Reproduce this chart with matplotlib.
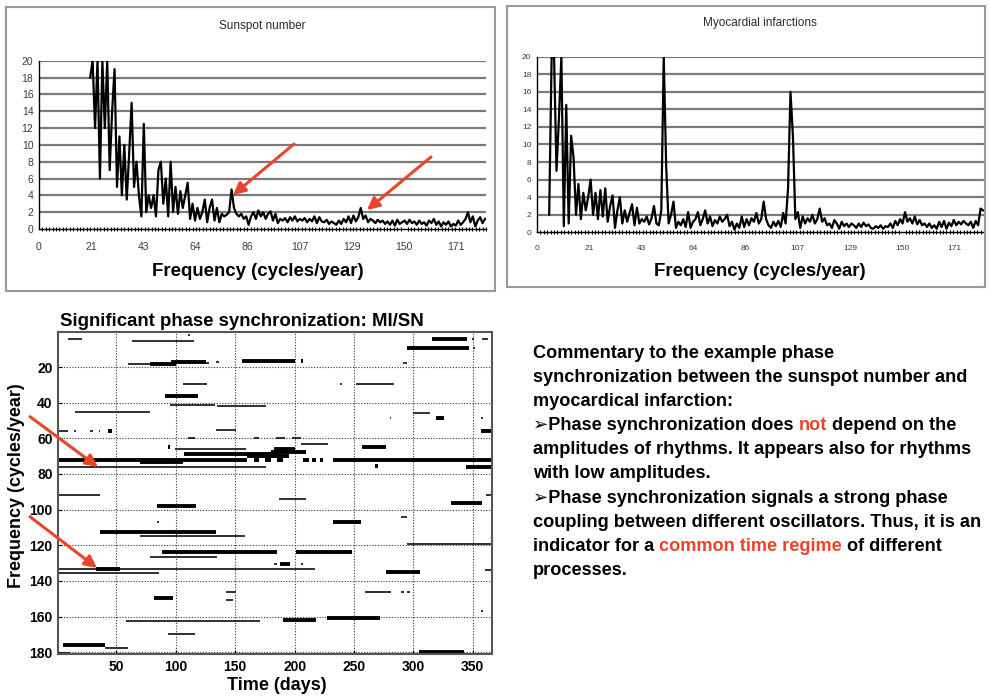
import matplotlib
matplotlib.use("Agg")
import matplotlib.pyplot as plt
from matplotlib.patches import Rectangle
import numpy as np

plt.rcParams['font.family'] = ['Liberation Sans', 'DejaVu Sans']

W, H = 991, 700
RED = '#e8452a'

# ---- spectra (top panels) ----
FREQ_TICKS = [0, 21.4, 42.8, 64.2, 85.6, 107.0, 128.4, 149.8, 171.2]
FREQ_TICK_LABELS = ['0', '21', '43', '64', '86', '107', '129', '150', '171']
POWER_TICKS = list(range(0, 21, 2))

sunspot_start = 21
sunspot_power = [
    18, 20, 12, 20, 6, 20, 12, 20, 7, 14,
    19, 5, 11, 4, 10, 3.5, 9, 15, 5, 8,
    4, 1.5, 12.5, 2, 4, 2.5, 4, 1.5, 7, 8,
    3, 6, 1.5, 8, 2, 5, 1.8, 4.5, 2.5, 4,
    5.5, 1.2, 3, 1, 2.5, 1.2, 2, 3.5, 0.8, 2.5,
    3.5, 1, 2.5, 0.8, 1.8, 1.5, 1.7, 2, 4.7, 2.5,
    1.8, 1.5, 1.8, 1.2, 1.5, 0.5, 1.5, 2, 1.2, 2.2,
    1.5, 2, 1.2, 1.8, 2.1, 1, 1.8, 0.7, 1.2, 1,
    1.3, 0.8, 1.4, 1, 1.5, 0.9, 1.2, 1, 1.3, 0.8,
    1.2, 0.9, 1.5, 0.7, 1.4, 0.9, 0.8, 1.1, 0.6, 0.9,
    0.7, 0.5, 1, 0.6, 1.2, 0.8, 1.5, 0.7, 1.6, 0.9,
    1.4, 2.5, 1.2, 1.6, 0.8, 1.2, 1, 0.7, 1.1, 0.8,
    1, 0.6, 0.9, 0.5, 1, 0.4, 1.1, 0.6, 0.8, 1,
    0.6, 1.1, 0.7, 0.9, 0.5, 1, 0.6, 0.8, 0.4, 1,
    0.7, 1.2, 0.5, 0.9, 0.3, 0.8, 0.5, 0.9, 0.3, 0.6,
    0.4, 1, 0.5, 0.8, 1.2, 2, 0.8, 1.5, 0.3, 1,
    1.4, 0.7, 1.2,
]

mi_start = 5
mi_power = [
    2, 20, 20, 7, 13, 20, 0.7, 14.5, 1, 11,
    8.5, 2, 5.5, 1.5, 4.5, 2.5, 4, 6, 2, 4.5,
    1.5, 4.8, 1.8, 5, 1.2, 3, 4.2, 0.5, 2.5, 4,
    1, 2.5, 1.2, 2.2, 3.2, 0.8, 2.8, 1, 1.5, 1.2,
    1.8, 0.9, 1.6, 3, 1, 0.8, 2.5, 20, 7.5, 1,
    2, 3.5, 0.5, 1.2, 0.8, 1.5, 0.6, 2.3, 0.5, 1.2,
    1.5, 2.3, 0.8, 1.5, 2.5, 1, 1.8, 0.7, 1.4, 1,
    1.8, 1.2, 1.5, 2, 0.7, 1.2, 0.3, 1, 0.5, 1.8,
    0.6, 1.5, 0.8, 1.6, 1.2, 2.2, 1, 1.5, 3.5, 1.5,
    0.8, 0.5, 1.2, 0.7, 1.3, 0.6, 2.2, 1, 5, 16,
    11, 1.5, 2.3, 0.5, 1.8, 1, 1.6, 1.2, 2, 1,
    1.5, 2.7, 1.2, 1.6, 0.8, 1, 0.5, 1.4, 1, 0.4,
    1.2, 0.7, 1, 0.6, 1, 0.8, 0.5, 1, 0.6, 1.1,
    0.7, 0.9, 0.5, 0.4, 0.7, 0.5, 0.8, 0.4, 0.7, 0.6,
    1, 0.5, 1.3, 0.8, 1.5, 1, 2.3, 1.2, 1.6, 1,
    1.8, 0.9, 1.4, 0.8, 1, 0.6, 1, 0.5, 0.8, 0.4,
    1.2, 0.6, 1.3, 0.4, 1.1, 0.7, 1.4, 0.8, 1.2, 0.9,
    1.3, 1, 0.8, 1.2, 0.5, 1.3, 0.8, 2.7, 2.5,
]

# ---- phase synchronization segments (bottom left) ----
# frequency (cycles/year), start day, end day, strong (1) / weak (0)
sync_freq = [
    4.5, 5.4, 1.8, 18.5, 18.2, 17.3, 18, 17, 16.4, 16.4, 17.8, 4.5, 4.5, 4.5, 9.1, 9.1,
    29.4, 29.4, 29.4, 36.3, 41.2, 42.1, 45.3, 46, 48.5, 48.5, 48.5,
    56, 56, 56, 56, 56, 55.2, 56, 60, 60, 60, 60, 63, 65, 65.9, 65,
    69, 70, 66, 67.5,
    72, 72, 72, 72, 72, 72, 72, 72, 73.4, 76.2, 75.6, 76.2,
    91.7, 91.7, 94, 96.2, 98, 104, 106.7, 106.7, 112.7, 114.6, 119.2,
    124, 124, 126.7, 130.5, 130.5, 130.5, 133.3, 133.3, 135.5, 135.2, 134,
    146, 146, 146, 146, 149.8, 150.7, 156.7, 162.7, 162, 160.8, 169.8,
    175.8, 177.7, 179.7, 180.5,
]
sync_start = [
    9, 63, 110, 60, 78, 96, 125, 134, 156, 205, 291, 316, 349, 358, 295, 350,
    106, 238, 252, 91, 95, 135, 15, 300, 319, 357, 280,
    1, 14, 28, 35, 43, 134, 357, 110, 166, 184, 198, 205, 93, 99, 257,
    107, 160, 183, 180,
    1, 166, 175, 185, 207, 215, 221, 232, 70, 1, 268, 344,
    1, 361, 187, 332, 84, 290, 232, 84, 36, 70, 295,
    88, 201, 78, 183, 188, 205, 1, 33, 1, 277, 360,
    142, 259, 290, 295, 82, 142, 357, 58, 190, 227, 93,
    5, 40, 305, 1,
]
sync_end = [
    21, 115, 112, 88, 100, 125, 128, 136, 200, 207, 295, 345, 351, 363, 347, 352,
    126, 240, 284, 119, 133, 176, 78, 314, 326, 359, 281,
    9, 16, 30, 36, 46, 151, 366, 116, 170, 192, 205, 228, 95, 159, 277,
    185, 195, 200, 210,
    160, 170, 180, 190, 212, 218, 224, 366, 106, 176, 270, 366,
    36, 366, 210, 358, 117, 295, 256, 86, 134, 158, 366,
    185, 248, 135, 185, 196, 207, 217, 53, 86, 306, 366,
    151, 281, 292, 297, 98, 148, 359, 171, 218, 272, 116,
    40, 60, 343, 11,
]
sync_strong = [
    0, 0, 0, 0, 1, 1, 0, 0, 1, 1, 0, 1, 0, 0, 1, 0,
    0, 0, 0, 1, 0, 0, 0, 0, 1, 0, 0,
    0, 0, 0, 0, 1, 0, 1, 0, 0, 0, 0, 0, 1, 0, 1,
    1, 1, 1, 1,
    1, 1, 1, 1, 1, 1, 1, 1, 1, 0, 1, 1,
    0, 0, 0, 1, 1, 0, 1, 0, 1, 0, 0,
    1, 1, 0, 0, 1, 0, 0, 1, 0, 1, 0,
    0, 0, 0, 0, 1, 0, 0, 0, 1, 1, 0,
    1, 0, 1, 0,
]

DAY_TICKS = [50, 100, 150, 200, 250, 300, 350]
SYNC_FREQ_TICKS = [20, 40, 60, 80, 100, 120, 140, 160, 180]

# ---- commentary text ----
comment_lines = [
    [("Commentary to the example phase", 'k')],
    [("synchronization between the sunspot number and", 'k')],
    [("myocardical infarction:", 'k')],
    [("\u27a2Phase synchronization does ", 'k'), ("not", RED), (" depend on the", 'k')],
    [("amplitudes of rhythms. It appears also for rhythms", 'k')],
    [("with low amplitudes.", 'k')],
    [("\u27a2Phase synchronization signals a strong phase", 'k')],
    [("coupling between different oscillators. Thus, it is an", 'k')],
    [("indicator for a ", 'k'), ("common time regime", RED), (" of different", 'k')],
    [("processes.", 'k')],
]


def px_axes(fig, left, top, right, bottom):
    return fig.add_axes([left / W, 1 - bottom / H, (right - left) / W, (bottom - top) / H])


def spectrum_panel(fig, rect, start, power, title, title_xy, label_xy, box, tick_size):
    # gray frame around the panel
    bx0, by0, bx1, by1 = box
    fig.add_artist(Rectangle((bx0 / W, 1 - by1 / H), (bx1 - bx0) / W, (by1 - by0) / H,
                             transform=fig.transFigure, fill=False,
                             edgecolor='#9a9a9a', lw=1.5))
    ax = px_axes(fig, *rect)
    freq = np.arange(start, start + len(power))
    for y in POWER_TICKS[1:]:
        ax.axhline(y, color='#7a7a7a', lw=1.6, zorder=1)
    ax.plot(freq, power, color='k', lw=1.6, zorder=3)
    ax.set_xlim(0, 183)
    ax.set_ylim(0, 20)
    ax.set_yticks(POWER_TICKS)
    ax.set_xticks(FREQ_TICKS)
    ax.set_xticklabels(FREQ_TICK_LABELS)
    ax.set_xticks(np.arange(0, 184, 1.4), minor=True)
    ax.tick_params(axis='both', which='major', length=0, labelsize=tick_size,
                   labelcolor='#3a3a3a')
    ax.tick_params(axis='x', which='major', pad=9)
    ax.tick_params(axis='y', pad=4)
    ax.tick_params(axis='x', which='minor', length=2.5, width=0.8, direction='inout')
    for s in ['top', 'right']:
        ax.spines[s].set_visible(False)
    ax.spines['left'].set_linewidth(1.0)
    ax.spines['bottom'].set_linewidth(1.0)
    fig.text(title_xy[0] / W, 1 - title_xy[1] / H, title, ha='center', va='center',
             fontsize=8.5, color='#2a2a2a')
    fig.text(label_xy[0] / W, 1 - label_xy[1] / H, "Frequency (cycles/year)",
             ha='center', va='center', fontsize=13.4, fontweight='bold')
    return ax


def red_arrow(fig, tail, tip):
    fig.add_artist(plt.Annotation("", xy=(tip[0] / W, 1 - tip[1] / H),
                                  xytext=(tail[0] / W, 1 - tail[1] / H),
                                  xycoords='figure fraction', textcoords='figure fraction',
                                  arrowprops=dict(arrowstyle='-|>', color=RED, lw=2.2,
                                                  mutation_scale=18, shrinkA=0, shrinkB=0)))


fig = plt.figure(figsize=(W / 100, H / 100), dpi=100)

ax1 = spectrum_panel(fig, (39, 60.7, 486, 229), sunspot_start, sunspot_power,
                     "Sunspot number", (262, 26), (258, 272), (6, 7, 495, 291), 7.5)
ax2 = spectrum_panel(fig, (537, 56.7, 984, 232.3), mi_start, mi_power,
                     "Myocardial infarctions", (760, 23), (760, 272), (507, 6, 985, 287), 6)

red_arrow(fig, (294, 144), (233, 195))
red_arrow(fig, (431, 157), (367, 210))

# ---- phase synchronization map ----
ax3 = px_axes(fig, 58.3, 332.3, 491.7, 654)
sf = np.array(sync_freq)
ss = np.array(sync_start)
se = np.array(sync_end)
st = np.array(sync_strong, dtype=bool)
ax3.hlines(sf[~st], ss[~st], se[~st], colors='#202020', lw=1.3)
ax3.hlines(sf[st], ss[st], se[st], colors='k', lw=2.8)
ax3.set_xlim(1, 366)
ax3.set_ylim(181, 0.5)
ax3.set_xticks(DAY_TICKS)
ax3.set_yticks(SYNC_FREQ_TICKS)
ax3.grid(True, linestyle=(0, (1, 1.5)), color='#333333', lw=0.8)
ax3.set_axisbelow(True)
ax3.tick_params(direction='in', length=3, labelsize=10, pad=4)
for lab in ax3.get_xticklabels() + ax3.get_yticklabels():
    lab.set_fontweight('bold')
for s in ax3.spines.values():
    s.set_linewidth(1.5)
    s.set_color('#555555')
fig.text(60 / W, 1 - 321.5 / H, "Significant phase synchronization: MI/SN",
         ha='left', va='center', fontsize=13.4, fontweight='bold')
fig.text(17 / W, 1 - 486 / H, "Frequency (cycles/year)", rotation=90,
         ha='center', va='center', fontsize=13, fontweight='bold')
fig.text(277 / W, 1 - 686 / H, "Time (days)", ha='center', va='center',
         fontsize=13, fontweight='bold')

red_arrow(fig, (30, 416.7), (98, 467))
red_arrow(fig, (30, 516.7), (97, 568))

# ---- commentary block with coloured words ----
renderer = fig.canvas.get_renderer()
text_kw = dict(fontsize=13.1, fontweight='bold', va='baseline')


def text_width(s):
    t = fig.text(0, 0, s, ha='left', **text_kw)
    w = t.get_window_extent(renderer).width
    t.remove()
    return w


x0, y0, dy = 533, 358, 24.1
for i, parts in enumerate(comment_lines):
    y = 1 - (y0 + i * dy) / H
    full = ""
    for s, c in parts:
        full += s
        piece = s.strip()
        if not piece:
            continue
        # right edge of this piece sits where the line so far ends
        right = text_width(full.rstrip())
        fig.text((x0 + right) / W, y, piece, color=c, ha='right', **text_kw)

fig.savefig("out.png", dpi=100)
